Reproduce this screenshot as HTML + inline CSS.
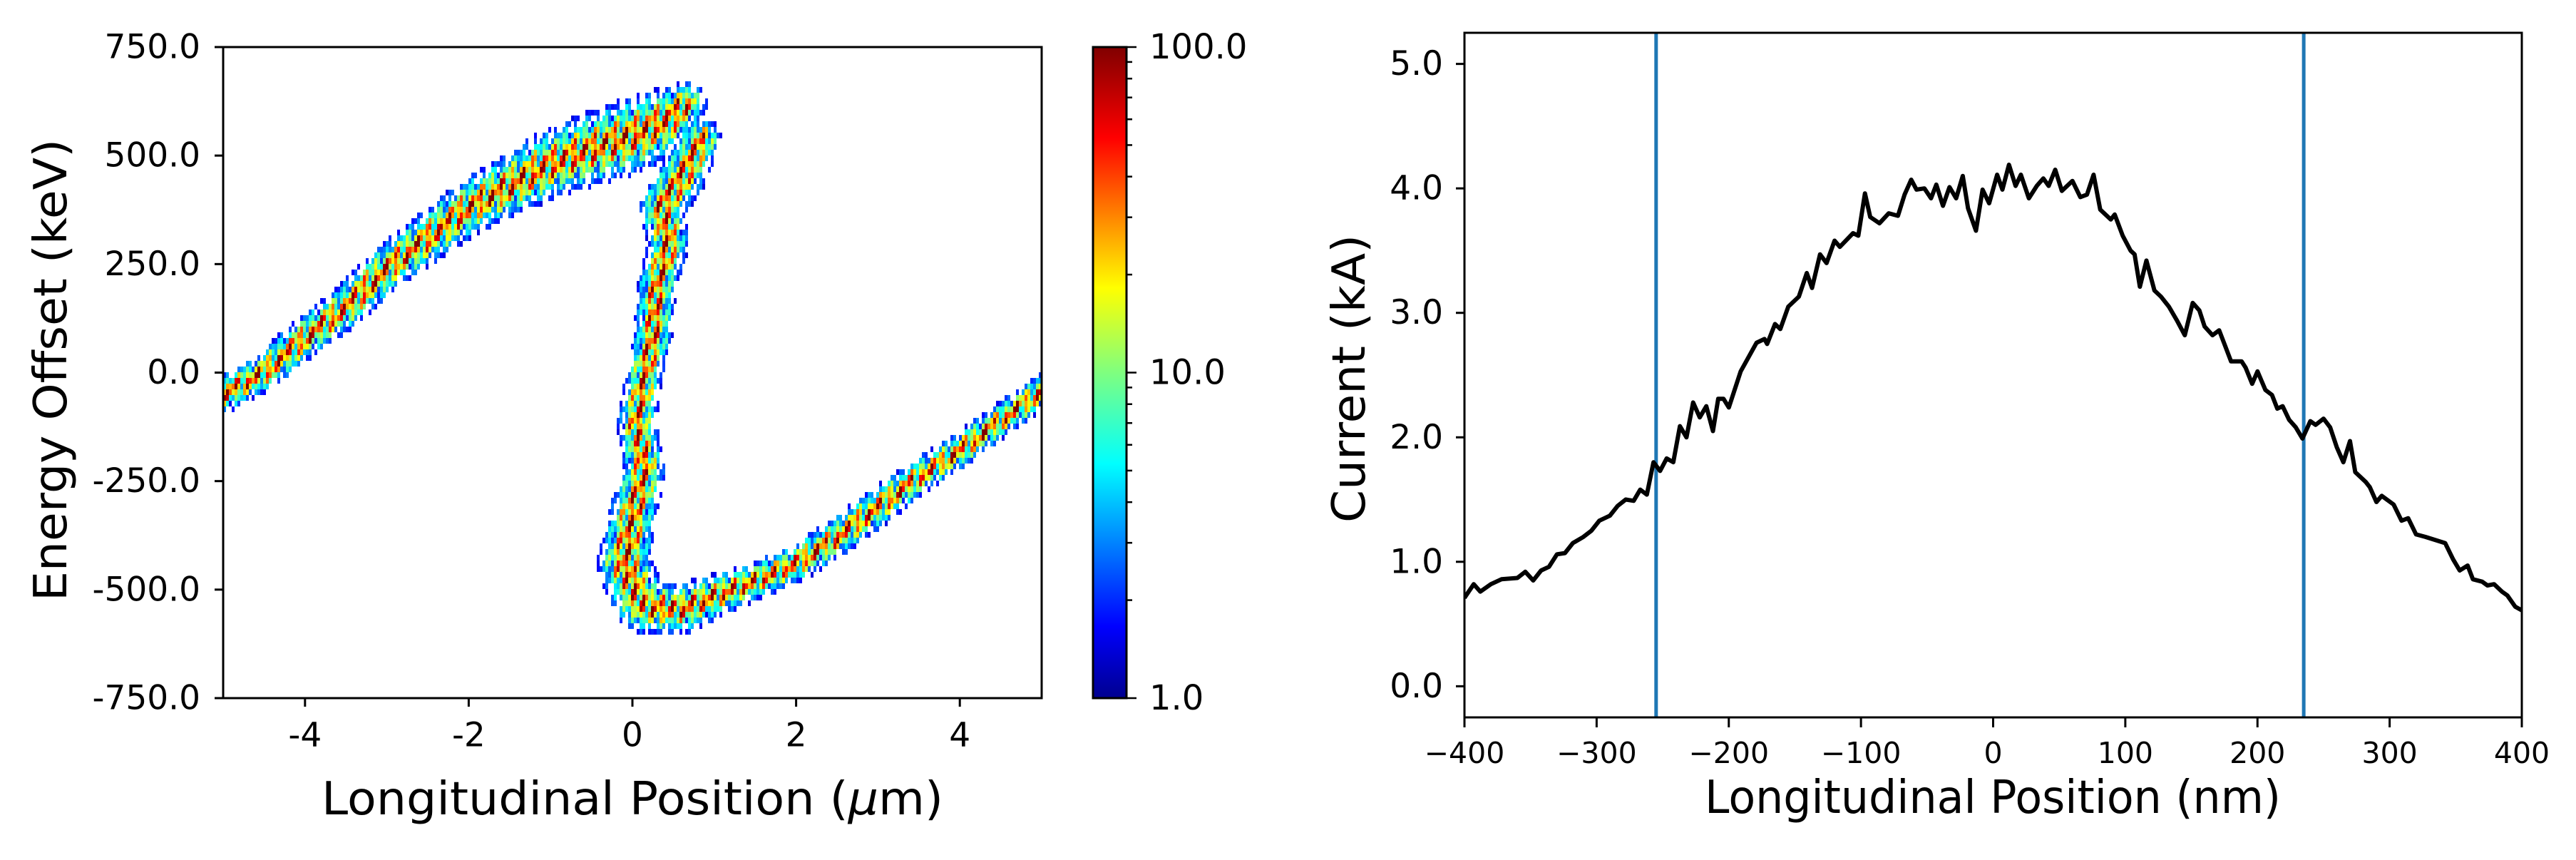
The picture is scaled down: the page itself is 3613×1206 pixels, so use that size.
<!DOCTYPE html>
<html><head><meta charset="utf-8"><style>
html,body{margin:0;padding:0;background:#fff;}
svg{display:block;font-family:"DejaVu Sans","Liberation Sans",sans-serif;}
</style></head><body>
<svg id="fig" width="3613" height="1206" viewBox="0 0 3613 1206" xmlns="http://www.w3.org/2000/svg">
<defs>
<clipPath id="clipL"><rect x="313" y="66" width="1148" height="913"/></clipPath>
<clipPath id="clipR"><rect x="2054" y="46" width="1483" height="960"/></clipPath>
<linearGradient id="jetGrad" x1="0" y1="1" x2="0" y2="0">
<stop offset="0" stop-color="#00008f"/><stop offset="0.11" stop-color="#0000ff"/><stop offset="0.36" stop-color="#00ffff"/><stop offset="0.5" stop-color="#7fff7f"/><stop offset="0.63" stop-color="#ffff00"/><stop offset="0.86" stop-color="#ff0000"/><stop offset="1" stop-color="#800000"/>
</linearGradient>
</defs>
<g id="heat" clip-path="url(#clipL)"></g>
<rect x="313" y="66" width="1148" height="913" fill="none" stroke="#000" stroke-width="3"/>
<g id="axL"></g>
<text x="72" y="519" font-size="64" text-anchor="middle" transform="rotate(-90 72 519)" dominant-baseline="central" textLength="648" lengthAdjust="spacingAndGlyphs">Energy Offset (keV)</text>
<text x="887" y="1121" font-size="64" text-anchor="middle" dominant-baseline="central" textLength="872" lengthAdjust="spacingAndGlyphs">Longitudinal Position (<tspan font-style="italic">μ</tspan>m)</text>
<rect x="1533" y="66" width="47" height="913" fill="url(#jetGrad)" stroke="#000" stroke-width="3"/>
<g id="cbTicks"></g>
<g id="curveG" clip-path="url(#clipR)"></g>
<rect x="2054" y="46" width="1483" height="960" fill="none" stroke="#000" stroke-width="3"/>
<g id="axR"></g>
<text x="1893" y="531" font-size="64" text-anchor="middle" transform="rotate(-90 1893 531)" dominant-baseline="central" textLength="404" lengthAdjust="spacingAndGlyphs">Current (kA)</text>
<text x="2795" y="1119" font-size="64" text-anchor="middle" dominant-baseline="central" textLength="808" lengthAdjust="spacingAndGlyphs">Longitudinal Position (nm)</text>
</svg>
<script>
// ---- Right chart data ----
const posNm = [-400,-393,-388,-380,-372,-360,-354,-348,-342,-336,-330,-324,-318,-310,-304,-298,-290,-284,-278,-272,-267,-262,-257,-252,-247,-242,-237,-232,-227,-222,-217,-212,-208,-204,-200,-191,-179,-173,-171,-165,-161,-155,-147,-141,-137,-131,-126,-120,-116,-106,-102,-97,-93,-86,-79,-72,-67,-62,-58,-52,-47,-43,-38,-33,-28,-23,-19,-13,-8,-3,3,7,12,17,21,27,33,38,42,47,52,60,66,71,76,81,89,92,98,104,107,111,116,122,127,133,139,145,151,156,160,166,171,175,180,188,191,196,200,206,211,215,219,224,229,234,240,244,250,255,260,265,270,274,282,285,290,294,303,309,314,320,327,336,342,348,353,359,363,370,374,379,385,389,395,400];
const currentKA = [0.71,0.82,0.76,0.82,0.86,0.87,0.92,0.85,0.93,0.96,1.06,1.07,1.15,1.20,1.25,1.33,1.37,1.45,1.50,1.49,1.58,1.54,1.80,1.73,1.83,1.80,2.09,2.00,2.28,2.16,2.25,2.05,2.31,2.31,2.24,2.53,2.76,2.79,2.75,2.91,2.87,3.05,3.13,3.32,3.20,3.47,3.40,3.58,3.53,3.64,3.62,3.96,3.77,3.72,3.80,3.78,3.95,4.07,3.99,4.00,3.92,4.03,3.86,4.01,3.92,4.10,3.84,3.66,3.99,3.88,4.11,3.99,4.19,4.02,4.11,3.92,4.02,4.08,4.02,4.15,3.98,4.06,3.93,3.95,4.11,3.83,3.75,3.79,3.62,3.50,3.47,3.21,3.42,3.18,3.13,3.05,2.94,2.82,3.08,3.02,2.89,2.82,2.86,2.75,2.61,2.61,2.56,2.43,2.53,2.38,2.34,2.23,2.25,2.14,2.08,1.99,2.13,2.10,2.15,2.08,1.92,1.80,1.97,1.72,1.64,1.60,1.48,1.53,1.46,1.33,1.35,1.22,1.20,1.17,1.15,1.02,0.93,0.97,0.86,0.84,0.81,0.82,0.76,0.73,0.64,0.61];
const vlinesNm = [-255, 235];
const rXTicks = [-400,-300,-200,-100,0,100,200,300,400];
const rXTickLabels = ["\u2212400","\u2212300","\u2212200","\u2212100","0","100","200","300","400"];
const rYTicks = [0,1,2,3,4,5];
const rYTickLabels = ["0.0","1.0","2.0","3.0","4.0","5.0"];

// ---- Left chart data ----
const lXTicks = [-4,-2,0,2,4];
const lXTickLabels = ["-4","-2","0","2","4"];
const lYTicks = [-750,-500,-250,0,250,500,750];
const lYTickLabels = ["-750.0","-500.0","-250.0","0.0","250.0","500.0","750.0"];
const ridgeUpperX = [-5.1,-4.5,-4,-3.5,-3,-2.5,-2,-1.5,-1,-0.5,0,0.4,0.65];
const ridgeUpperY = [-60,0,80,150,240,310,380,430,480,515,545,580,620];
const ridgeUpperW = [22,22,24,25,27,29,32,36,40,44,46,40,26];
const ridgeVertX = [0.85,0.6,0.35,0.45,0.3,0.25,0.15,0.05,0.15,0.0,-0.1,0.1];
const ridgeVertY = [540,450,380,300,200,80,0,-120,-220,-330,-440,-530];
const ridgeVertW = [24,30,28,25,24,24,22,24,26,30,34,34];
const ridgeLowerX = [0.2,0.6,1,1.5,2,2.5,3,3.5,4,4.5,5.1];
const ridgeLowerY = [-540,-545,-515,-480,-440,-380,-310,-240,-180,-110,-30];
const ridgeLowerW = [34,30,26,22,22,22,22,20,20,19,19];
const cbTickVals = [1,10,100];
const cbTickLabels = ["1.0","10.0","100.0"];

const NS="http://www.w3.org/2000/svg";
function mk(tag, attrs, parent){const e=document.createElementNS(NS,tag);for(const k in attrs)e.setAttribute(k,attrs[k]);parent.appendChild(e);return e;}

// left axes
const L={x0:313,x1:1461,y0:66,y1:979};
const lx=v=>L.x0+(v+5)/10*(L.x1-L.x0);
const ly=v=>L.y1-(v+750)/1500*(L.y1-L.y0);
const axL=document.getElementById('axL');
lXTicks.forEach((t,i)=>{
  const tk=mk('line',{x1:lx(t),x2:lx(t),y1:L.y1,y2:L.y1+12,stroke:'#000','stroke-width':3},axL);
  
  
  const tx=mk('text',{x:lx(t),y:L.y1+52,'font-size':47,'text-anchor':'middle','dominant-baseline':'central'},axL);
  tx.textContent=lXTickLabels[i];
  
  
});
lYTicks.forEach((t,i)=>{
  const tk=mk('line',{x1:L.x0-12,x2:L.x0,y1:ly(t),y2:ly(t),stroke:'#000','stroke-width':3},axL);
  
  
  const tx=mk('text',{x:L.x0-32,y:ly(t),'font-size':47,'text-anchor':'end','dominant-baseline':'central'},axL);
  tx.textContent=lYTickLabels[i];
  
  
});

// colorbar ticks
const cbg=document.getElementById('cbTicks');
const cby=v=>979-Math.log10(v)/2*913;
for(let d=1;d<=100;d*=10){for(let m=1;m<10;m++){const v=d*m;if(v>100)break;
  const major=(m===1);
  const tk=mk('line',{x1:1580,x2:major?1594:1588,y1:cby(v),y2:cby(v),stroke:'#000','stroke-width':2.5},cbg);
  
  
}}
cbTickVals.forEach((v,i)=>{
  const tx=mk('text',{x:1612,y:cby(v),'font-size':48,'dominant-baseline':'central'},cbg);
  tx.textContent=cbTickLabels[i];
  
  
});

// heatmap
function jet(t){t=Math.max(0,Math.min(1,t));
  const r=Math.max(0,Math.min(1,Math.min(4*t-1.5,-4*t+4.5)));
  const g=Math.max(0,Math.min(1,Math.min(4*t-0.5,-4*t+3.5)));
  const b=Math.max(0,Math.min(1,Math.min(4*t+0.5,-4*t+2.5)));
  return 'rgb('+Math.round(r*255)+','+Math.round(g*255)+','+Math.round(b*255)+')';}
const ridges=[[ridgeUpperX,ridgeUpperY,ridgeUpperW],[ridgeVertX,ridgeVertY,ridgeVertW],[ridgeLowerX,ridgeLowerY,ridgeLowerW]];
function ridgeDist(px,py){let best=1e9;
  ridges.forEach(([xs,ys,ws])=>{for(let i=0;i<xs.length-1;i++){
    const ax=lx(xs[i]),ay=ly(ys[i]),bx=lx(xs[i+1]),by=ly(ys[i+1]);
    const dx=bx-ax,dy=by-ay,L2=dx*dx+dy*dy;
    let t=((px-ax)*dx+(py-ay)*dy)/L2;t=Math.max(0,Math.min(1,t));
    const cx=ax+t*dx,cy=ay+t*dy,w=ws[i]+(ws[i+1]-ws[i])*t;
    const d=Math.hypot(px-cx,py-cy)/w;
    if(d<best)best=d;
  }});
  return best;}
const heat=document.getElementById('heat');
const CW=4,CH=8;
let frag=document.createDocumentFragment();
for(let px=L.x0;px<L.x1;px+=CW){for(let py=L.y0;py<L.y1;py+=CH){
  const d=ridgeDist(px+CW/2,py+CH/2);
  if(d>1.15)continue;
  const tex=0.5+0.5*Math.sin(px*0.37+py*0.11)*Math.cos(px*0.083-py*0.07);
  if(d>0.75 && tex<0.45)continue;
  const v=Math.exp(-1.3*d*d)*(0.25+0.75*tex);
  const t=v*1.25-0.05;
  if(t<0.03)continue;
  const r=document.createElementNS(NS,'rect');
  r.setAttribute('x',px);r.setAttribute('y',py);r.setAttribute('width',CW);r.setAttribute('height',CH);
  r.setAttribute('fill',jet(Math.min(1,t)));
  
  
  frag.appendChild(r);
}}
heat.appendChild(frag);

// right axes
const R={x0:2054,x1:3537,y0:46,y1:1006};
const rx=v=>R.x0+(v+400)/800*(R.x1-R.x0);
const ry=v=>R.y1-(v+0.25)/5.5*(R.y1-R.y0);
const axR=document.getElementById('axR');
rXTicks.forEach((t,i)=>{
  const tk=mk('line',{x1:rx(t),x2:rx(t),y1:R.y1,y2:R.y1+14,stroke:'#000','stroke-width':3},axR);
  
  
  const tx=mk('text',{x:rx(t),y:R.y1+50,'font-size':41,'text-anchor':'middle','dominant-baseline':'central'},axR);
  tx.textContent=rXTickLabels[i];
  
  
});
rYTicks.forEach((t,i)=>{
  const tk=mk('line',{x1:R.x0-12,x2:R.x0,y1:ry(t),y2:ry(t),stroke:'#000','stroke-width':3},axR);
  
  
  const tx=mk('text',{x:R.x0-30,y:ry(t),'font-size':47,'text-anchor':'end','dominant-baseline':'central'},axR);
  tx.textContent=rYTickLabels[i];
  
  
});
const cg=document.getElementById('curveG');
vlinesNm.forEach(v=>{
  const ln=mk('line',{x1:rx(v),x2:rx(v),y1:R.y0,y2:R.y1,stroke:'#1f77b4','stroke-width':5},cg);
  
  
});
const pts=posNm.map((p,i)=>rx(p).toFixed(1)+','+ry(currentKA[i]).toFixed(1)).join(' ');
const pl=mk('polyline',{points:pts,fill:'none',stroke:'#000','stroke-width':6,'stroke-linejoin':'round'},cg);


</script>
</body></html>
